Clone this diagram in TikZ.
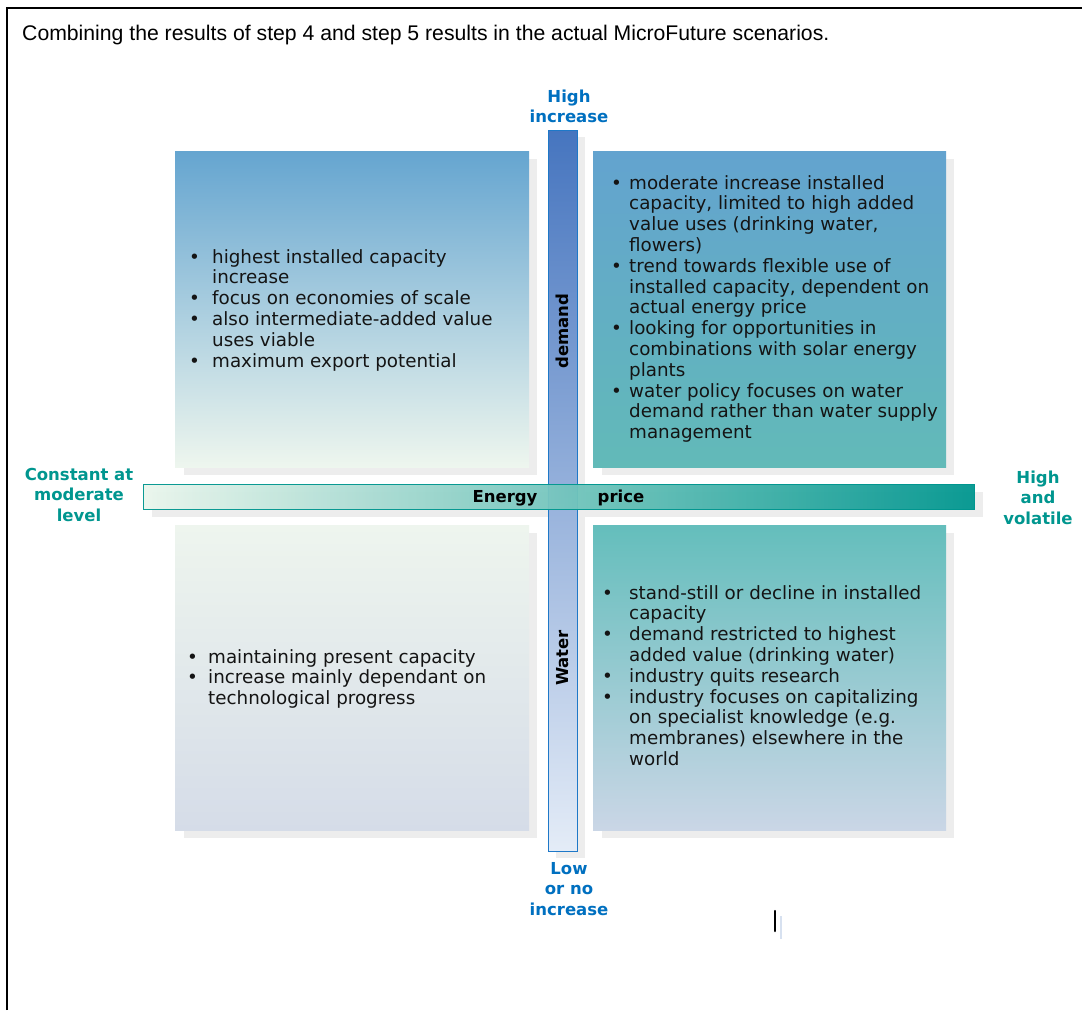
\documentclass[tikz,border=0pt]{standalone}
\usepackage{fontspec}
\setmainfont{DejaVu Sans}
\newfontfamily\titlefont{Liberation Sans}
\definecolor{tlTop}{RGB}{101,165,208}
\definecolor{tlBot}{RGB}{238,246,238}
\definecolor{trTop}{RGB}{99,163,207}
\definecolor{trBot}{RGB}{98,186,184}
\definecolor{blTop}{RGB}{238,245,238}
\definecolor{blBot}{RGB}{213,220,232}
\definecolor{brTop}{RGB}{100,190,188}
\definecolor{brBot}{RGB}{202,214,230}
\definecolor{vTop}{RGB}{70,117,191}
\definecolor{vBot}{RGB}{228,236,247}
\definecolor{vBorder}{RGB}{30,120,200}
\definecolor{hLeft}{RGB}{234,246,236}
\definecolor{hRight}{RGB}{0,150,143}
\definecolor{shadowgray}{RGB}{237,237,237}
\definecolor{hiblue}{RGB}{0,112,192}
\definecolor{tealtext}{RGB}{0,150,143}
\definecolor{bodytext}{RGB}{20,20,20}
\newcommand\bodyfont{\fontsize{18.3}{20.8}\selectfont}
\newcommand\labfont{\bfseries\fontsize{16.5}{20.5}\selectfont}
\newcommand\bul[1]{\makebox[#1pt][l]{•}}
\newcommand\nob[1]{\hspace*{#1pt}}
\tikzset{
  qbox/.style={inner sep=0, draw=none, anchor=north west},
  shadowbox/.style={fill=shadowgray, draw=none},
  bodytxt/.style={anchor=base west, inner sep=0, font=\bodyfont, text=bodytext},
  lab/.style={anchor=base, inner sep=0, font=\labfont},
  barlab/.style={inner sep=0, font=\labfont, text=black}
}
\begin{document}
\begin{tikzpicture}[x=1pt,y=-1pt]
\useasboundingbox (0,0) rectangle (1082,1010);
\fill[white] (0,0) rectangle (1082,1010);
\draw[line width=2pt] (6.5,1010) -- (6.5,7.5) -- (1082,7.5);

\node[anchor=base west, inner sep=0, font=\titlefont\fontsize{21.2}{25}\selectfont] (title) at (22,40)
  {Combining the results of step 4 and step 5 results in the actual MicroFuture scenarios.};

% quadrant shadows
\fill[shadowgray] (184,159) rectangle (537,475);
\fill[shadowgray] (602,159) rectangle (954,475);
\fill[shadowgray] (184,533) rectangle (537,838);
\fill[shadowgray] (602,533) rectangle (954,838);

% quadrants
\node[qbox, minimum width=354, minimum height=316, top color=tlTop, bottom color=tlBot] (tl) at (175,151) {};
\node[qbox, minimum width=353, minimum height=316, top color=trTop, bottom color=trBot] (tr) at (593,151) {};
\node[qbox, minimum width=354, minimum height=305, top color=blTop, bottom color=blBot] (bl) at (175,525) {};
\node[qbox, minimum width=353, minimum height=305, top color=brTop, bottom color=brBot] (br) at (593,525) {};

% bar shadows
\fill[shadowgray] (152,492) rectangle (983,517);
\fill[shadowgray] (556,137) rectangle (585,858);

% vertical bar
\node[anchor=north west, inner sep=0, minimum width=29, minimum height=721, top color=vTop, bottom color=vBot, draw=vBorder, line width=1.2pt] (vbar) at (548,130) {};
% horizontal bar
\node[anchor=north west, inner sep=0, minimum width=831, minimum height=25, left color=hLeft, right color=hRight, draw=hRight, line width=1pt, opacity=0.95] (hbar) at (143,484) {};

% bar labels
\node[barlab, rotate=90] (dem) at (562.5,331) {demand};
\node[barlab, rotate=90] (wat) at (562.5,658) {Water};
\node[lab, text=black] (energy) at (505,502) {Energy};
\node[lab, text=black] (price) at (621,502) {price};

% axis end labels
\node[lab, text=hiblue] (hi) at (569,102) {\begin{tabular}[t]{@{}c@{}}High\\increase\end{tabular}};
\node[lab, text=hiblue] (lo) at (569,874) {\begin{tabular}[t]{@{}c@{}}Low\\or no\\increase\end{tabular}};
\node[lab, text=tealtext] (cl) at (79,480) {\begin{tabular}[t]{@{}c@{}}Constant at\\moderate\\level\end{tabular}};
\node[lab, text=tealtext] (hv) at (1038,483) {\begin{tabular}[t]{@{}c@{}}High\\and\\volatile\end{tabular}};

% quadrant texts
\node[bodytxt] (tltext) at (189,263) {\begin{tabular}[t]{@{}l@{}}
\bul{23}highest installed capacity\\
\nob{23}increase\\
\bul{23}focus on economies of scale\\
\bul{23}also intermediate-added value\\
\nob{23}uses viable\\
\bul{23}maximum export potential
\end{tabular}};

\node[bodytxt] (trtext) at (611,189) {\begin{tabular}[t]{@{}l@{}}
\bul{18}moderate increase installed\\
\nob{18}capacity, limited to high added\\
\nob{18}value uses (drinking water,\\
\nob{18}flowers)\\
\bul{18}trend towards flexible use of\\
\nob{18}installed capacity, dependent on\\
\nob{18}actual energy price\\
\bul{18}looking for opportunities in\\
\nob{18}combinations with solar energy\\
\nob{18}plants\\
\bul{18}water policy focuses on water\\
\nob{18}demand rather than water supply\\
\nob{18}management
\end{tabular}};

\node[bodytxt] (bltext) at (187,663) {\begin{tabular}[t]{@{}l@{}}
\bul{21}maintaining present capacity\\
\bul{21}increase mainly dependant on\\
\nob{21}technological progress
\end{tabular}};

\node[bodytxt] (brtext) at (602,599) {\begin{tabular}[t]{@{}l@{}}
\bul{27}stand-still or decline in installed\\
\nob{27}capacity\\
\bul{27}demand restricted to highest\\
\nob{27}added value (drinking water)\\
\bul{27}industry quits research\\
\bul{27}industry focuses on capitalizing\\
\nob{27}on specialist knowledge (e.g.\\
\nob{27}membranes) elsewhere in the\\
\nob{27}world
\end{tabular}};

% stray marks
\draw[line width=2.5pt, black, line cap=round] (775,911) -- (775,931);
\draw[line width=2.5pt, color={rgb,255:red,215;green,225;blue,240}] (781,916) -- (781,939);
\end{tikzpicture}
\end{document}
